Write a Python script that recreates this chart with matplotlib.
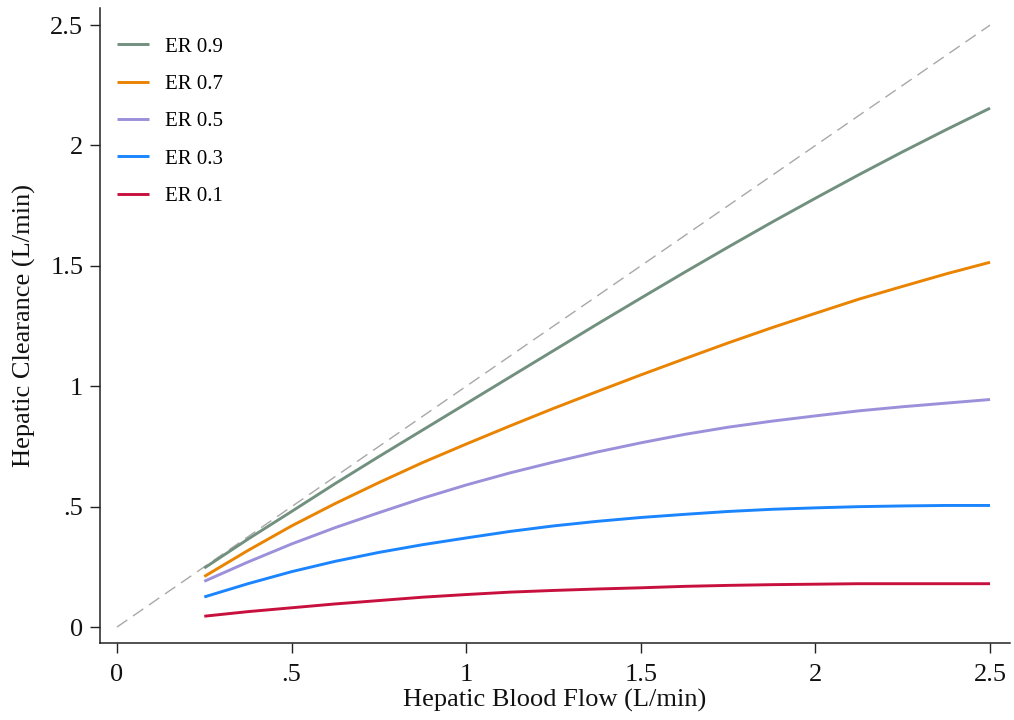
import matplotlib
matplotlib.use("Agg")
import matplotlib.pyplot as plt

# Hepatic blood flow (L/min) at which clearance is shown
flow = [0.25, 0.375, 0.5, 0.625, 0.75, 0.875, 1.0, 1.125, 1.25, 1.375,
        1.5, 1.625, 1.75, 1.875, 2.0, 2.125, 2.25, 2.375, 2.5]

# Hepatic clearance (L/min) for each extraction ratio
cl_er09 = [0.245, 0.365, 0.48, 0.596, 0.708, 0.818, 0.928, 1.038, 1.148, 1.258,
           1.366, 1.473, 1.578, 1.681, 1.781, 1.879, 1.974, 2.066, 2.155]
cl_er07 = [0.21, 0.318, 0.42, 0.513, 0.60, 0.683, 0.76, 0.835, 0.908, 0.978,
           1.047, 1.114, 1.18, 1.243, 1.303, 1.362, 1.415, 1.467, 1.515]
cl_er05 = [0.19, 0.27, 0.345, 0.413, 0.475, 0.535, 0.59, 0.64, 0.685, 0.727,
           0.765, 0.80, 0.83, 0.855, 0.877, 0.898, 0.915, 0.93, 0.945]
cl_er03 = [0.125, 0.18, 0.23, 0.273, 0.31, 0.342, 0.37, 0.397, 0.42, 0.439,
           0.455, 0.468, 0.48, 0.489, 0.495, 0.50, 0.503, 0.505, 0.505]
cl_er01 = [0.045, 0.064, 0.08, 0.096, 0.11, 0.124, 0.135, 0.145, 0.152, 0.158,
           0.163, 0.169, 0.173, 0.176, 0.178, 0.18, 0.18, 0.18, 0.18]

series_labels = ["ER 0.9", "ER 0.7", "ER 0.5", "ER 0.3", "ER 0.1"]
series_colors = ["#72907f", "#e98300", "#9b90da", "#1a85ff", "#c8103e"]

# identity line: clearance equal to flow
identity = [0.0, 2.5]

x_ticks = [0, 0.5, 1, 1.5, 2, 2.5]
x_tick_labels = ["0", ".5", "1", "1.5", "2", "2.5"]
y_ticks = [0, 0.5, 1, 1.5, 2, 2.5]
y_tick_labels = ["0", ".5", "1", "1.5", "2", "2.5"]

plt.rcParams["font.family"] = ["Liberation Serif", "DejaVu Serif"]

fig = plt.figure(figsize=(10.14, 7.2), dpi=100)
ax = fig.add_axes([0.0986, 0.1069, 0.8974, 0.882])

ax.plot(identity, identity, color="#a8a8a8", lw=1.0, dashes=(9, 5), zorder=1)

all_series = [cl_er09, cl_er07, cl_er05, cl_er03, cl_er01]
for ys, lab, col in zip(all_series, series_labels, series_colors):
    ax.plot(flow, ys, color=col, lw=2.1, label=lab, solid_capstyle="butt",
            solid_joinstyle="round", zorder=2)

ax.set_xlim(-0.0487, 2.557)
ax.set_ylim(-0.0664, 2.571)

ax.set_xticks(x_ticks)
ax.set_xticklabels(x_tick_labels)
ax.set_yticks(y_ticks)
ax.set_yticklabels(y_tick_labels)
ax.tick_params(axis="both", direction="out", length=7, width=1.0, labelsize=19,
               color="#222222", labelcolor="#111111")
ax.tick_params(axis="x", pad=8)
ax.tick_params(axis="y", pad=5)

for side in ["top", "right"]:
    ax.spines[side].set_visible(False)
for side in ["left", "bottom"]:
    ax.spines[side].set_linewidth(1.1)
    ax.spines[side].set_color("#222222")

ax.set_xlabel("Hepatic Blood Flow (L/min)", fontsize=19, labelpad=2, color="#111111")
ax.set_ylabel("Hepatic Clearance (L/min)", fontsize=19, labelpad=10, color="#111111")

leg = ax.legend(loc="upper left", bbox_to_anchor=(-0.0044, 0.987), frameon=False,
                fontsize=15, handlelength=1.55, handletextpad=0.75,
                labelspacing=0.85, borderaxespad=0.0,
                borderpad=1.0)

fig.savefig("out.png", dpi=100, facecolor="white")
